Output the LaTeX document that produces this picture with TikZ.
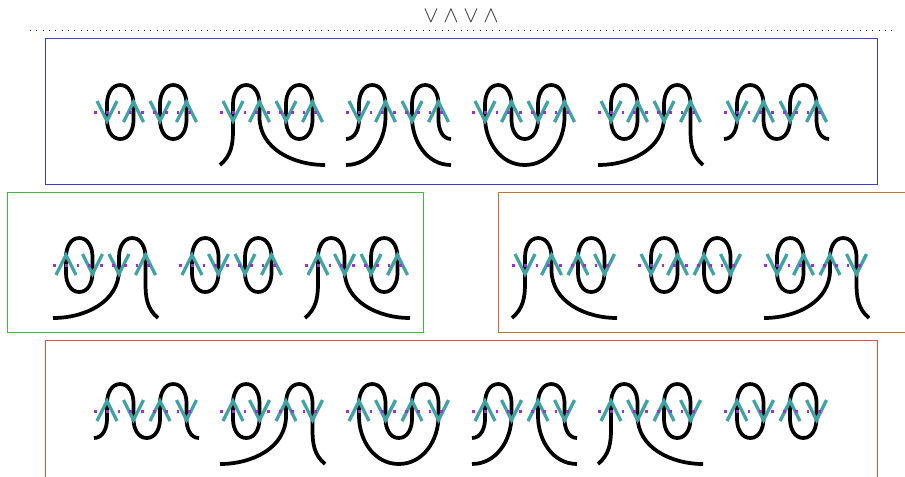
\documentclass[tikz,border=0pt]{standalone}
\usepackage{amsmath, amssymb}
\usepackage{tikz}
\usetikzlibrary{arrows.meta, positioning, calc}

\definecolor{markteal}{HTML}{3FA3A3}
\definecolor{dotviolet}{HTML}{9B30D9}
\definecolor{boxblue}{HTML}{3A3AE0}
\definecolor{boxgreen}{HTML}{3DBB3D}
\definecolor{boxorange}{HTML}{C8702C}
\definecolor{boxred}{HTML}{EE4A4A}
\definecolor{signgray}{HTML}{333333}

\tikzset{
    strand/.style={line width=2.8pt, black},
    signmark/.style={line width=2.5pt, markteal},
    dotline/.style={line width=2.1pt, dotviolet, dash pattern=on 2.1pt off 6.75pt},
    panel/.style={line width=0.75pt},
    % Marks on the dotted line
    vmark/.pic={\draw[signmark] (-10,-11) -- (0,9) -- (10,-11);},
    lmark/.pic={\draw[signmark] (-10,10) -- (0,-10) -- (10,10);},
    % The six tangles, origin at the left end of the dotted line
    twoloops/.pic={
        \draw[strand] (13,-8) to[out=90,in=180] (26.25,-27) to[out=0,in=90] (39.5,-8) -- (39.5,8) to[out=-90,in=0] (26.25,27) to[out=180,in=-90] (13,8) -- cycle;
        \draw[strand] (66,-8) to[out=90,in=180] (79.25,-27) to[out=0,in=90] (92.5,-8) -- (92.5,8) to[out=-90,in=0] (79.25,27) to[out=180,in=-90] (66,8) -- cycle;
    },
    capleft/.pic={
        \draw[strand] (0,53) to[out=40,in=-90] (13,18) -- (13,-8) to[out=90,in=180] (26.25,-27) to[out=0,in=90] (39.5,-8) -- (39.5,5) to[out=-90,in=180] (105,53);
        \draw[strand] (66,-8) to[out=90,in=180] (79.25,-27) to[out=0,in=90] (92.5,-8) -- (92.5,8) to[out=-90,in=0] (79.25,27) to[out=180,in=-90] (66,8) -- cycle;
    },
    capright/.pic={
        \draw[strand] (13,-8) to[out=90,in=180] (26.25,-27) to[out=0,in=90] (39.5,-8) -- (39.5,8) to[out=-90,in=0] (26.25,27) to[out=180,in=-90] (13,8) -- cycle;
        \draw[strand] (0,53) to[out=0,in=-90] (66,5) -- (66,-8) to[out=90,in=180] (79.25,-27) to[out=0,in=90] (92.5,-8) -- (92.5,18) to[out=-90,in=140] (105,53);
    },
    twocaps/.pic={
        \draw[strand] (0,27) to[out=0,in=-90] (13,8) -- (13,-8) to[out=90,in=180] (26.25,-27) to[out=0,in=90] (39.5,-8) -- (39.5,5) to[out=-90,in=0] (0,53);
        \draw[strand] (105,53) to[out=180,in=-90] (66,5) -- (66,-8) to[out=90,in=180] (79.25,-27) to[out=0,in=90] (92.5,-8) -- (92.5,8) to[out=-90,in=180] (105,27);
    },
    nested/.pic={
        \draw[strand] (13,-8) to[out=90,in=180] (26.25,-27) to[out=0,in=90] (39.5,-8) -- (39.5,8) to[out=-90,in=180] (52.75,27) to[out=0,in=-90] (66,8) -- (66,-8) to[out=90,in=180] (79.25,-27) to[out=0,in=90] (92.5,-8) -- (92.5,5) to[out=-90,in=0] (52.75,53) to[out=180,in=-90] (13,5) -- cycle;
    },
    wave/.pic={
        \draw[strand] (0,27) to[out=0,in=-90] (13,8) -- (13,-8) to[out=90,in=180] (26.25,-27) to[out=0,in=90] (39.5,-8) -- (39.5,8) to[out=-90,in=180] (52.75,27) to[out=0,in=-90] (66,8) -- (66,-8) to[out=90,in=180] (79.25,-27) to[out=0,in=90] (92.5,-8) -- (92.5,8) to[out=-90,in=180] (105,27);
    },
}

% #1 height of the dotted line, #2 list of x/tangle, #3-#6 the four marks
\newcommand{\tanglerow}[6]{%
    \foreach \xo/\kind in {#2} {
        \begin{scope}[shift={(\xo,#1)}]
            \pic {\kind};
            \pic at (13,0) {#3};
            \pic at (39.5,0) {#4};
            \pic at (66,0) {#5};
            \pic at (92.5,0) {#6};
            \draw[dotline] (0,0.4) -- (106,0.4);
        \end{scope}
    }%
}

\begin{document}
\begin{tikzpicture}[x=0.75pt, y=-0.75pt]
    \clip (0,0) rectangle (905,476);

    % Signs at the top
    \foreach \xo/\sgn [count=\i] in {431/\vee, 451/\wedge, 471/\vee, 491/\wedge} {
        \node[signgray, font=\LARGE, inner sep=0pt] (sign\i) at (\xo,16.5) {$\sgn$};
    }
    \draw[line width=0.8pt, dash pattern=on 0.8pt off 3.95pt] (30,30.5) -- (892,30.5);

    % Panels
    \draw[panel, boxblue] (45,38) rectangle (877,184);
    \draw[panel, boxgreen] (7,192) rectangle (423,332);
    \draw[panel, boxorange] (498.5,192) rectangle (915,332);
    \draw[panel, boxred] (45,340) rectangle (877,490);

    % Blue panel
    \tanglerow{112}{94/twoloops, 220/capleft, 346/twocaps, 472/nested, 598/capright, 724/wave}{vmark}{lmark}{vmark}{lmark}

    % Green panel
    \tanglerow{265}{53/capright, 179/twoloops, 305/capleft}{lmark}{vmark}{vmark}{lmark}

    % Orange panel
    \tanglerow{265}{512/capleft, 638/twoloops, 764/capright}{vmark}{lmark}{lmark}{vmark}

    % Red panel
    \tanglerow{411}{94/wave, 220/capright, 346/nested, 472/twocaps, 598/capleft, 724/twoloops}{lmark}{vmark}{lmark}{vmark}
\end{tikzpicture}
\end{document}
